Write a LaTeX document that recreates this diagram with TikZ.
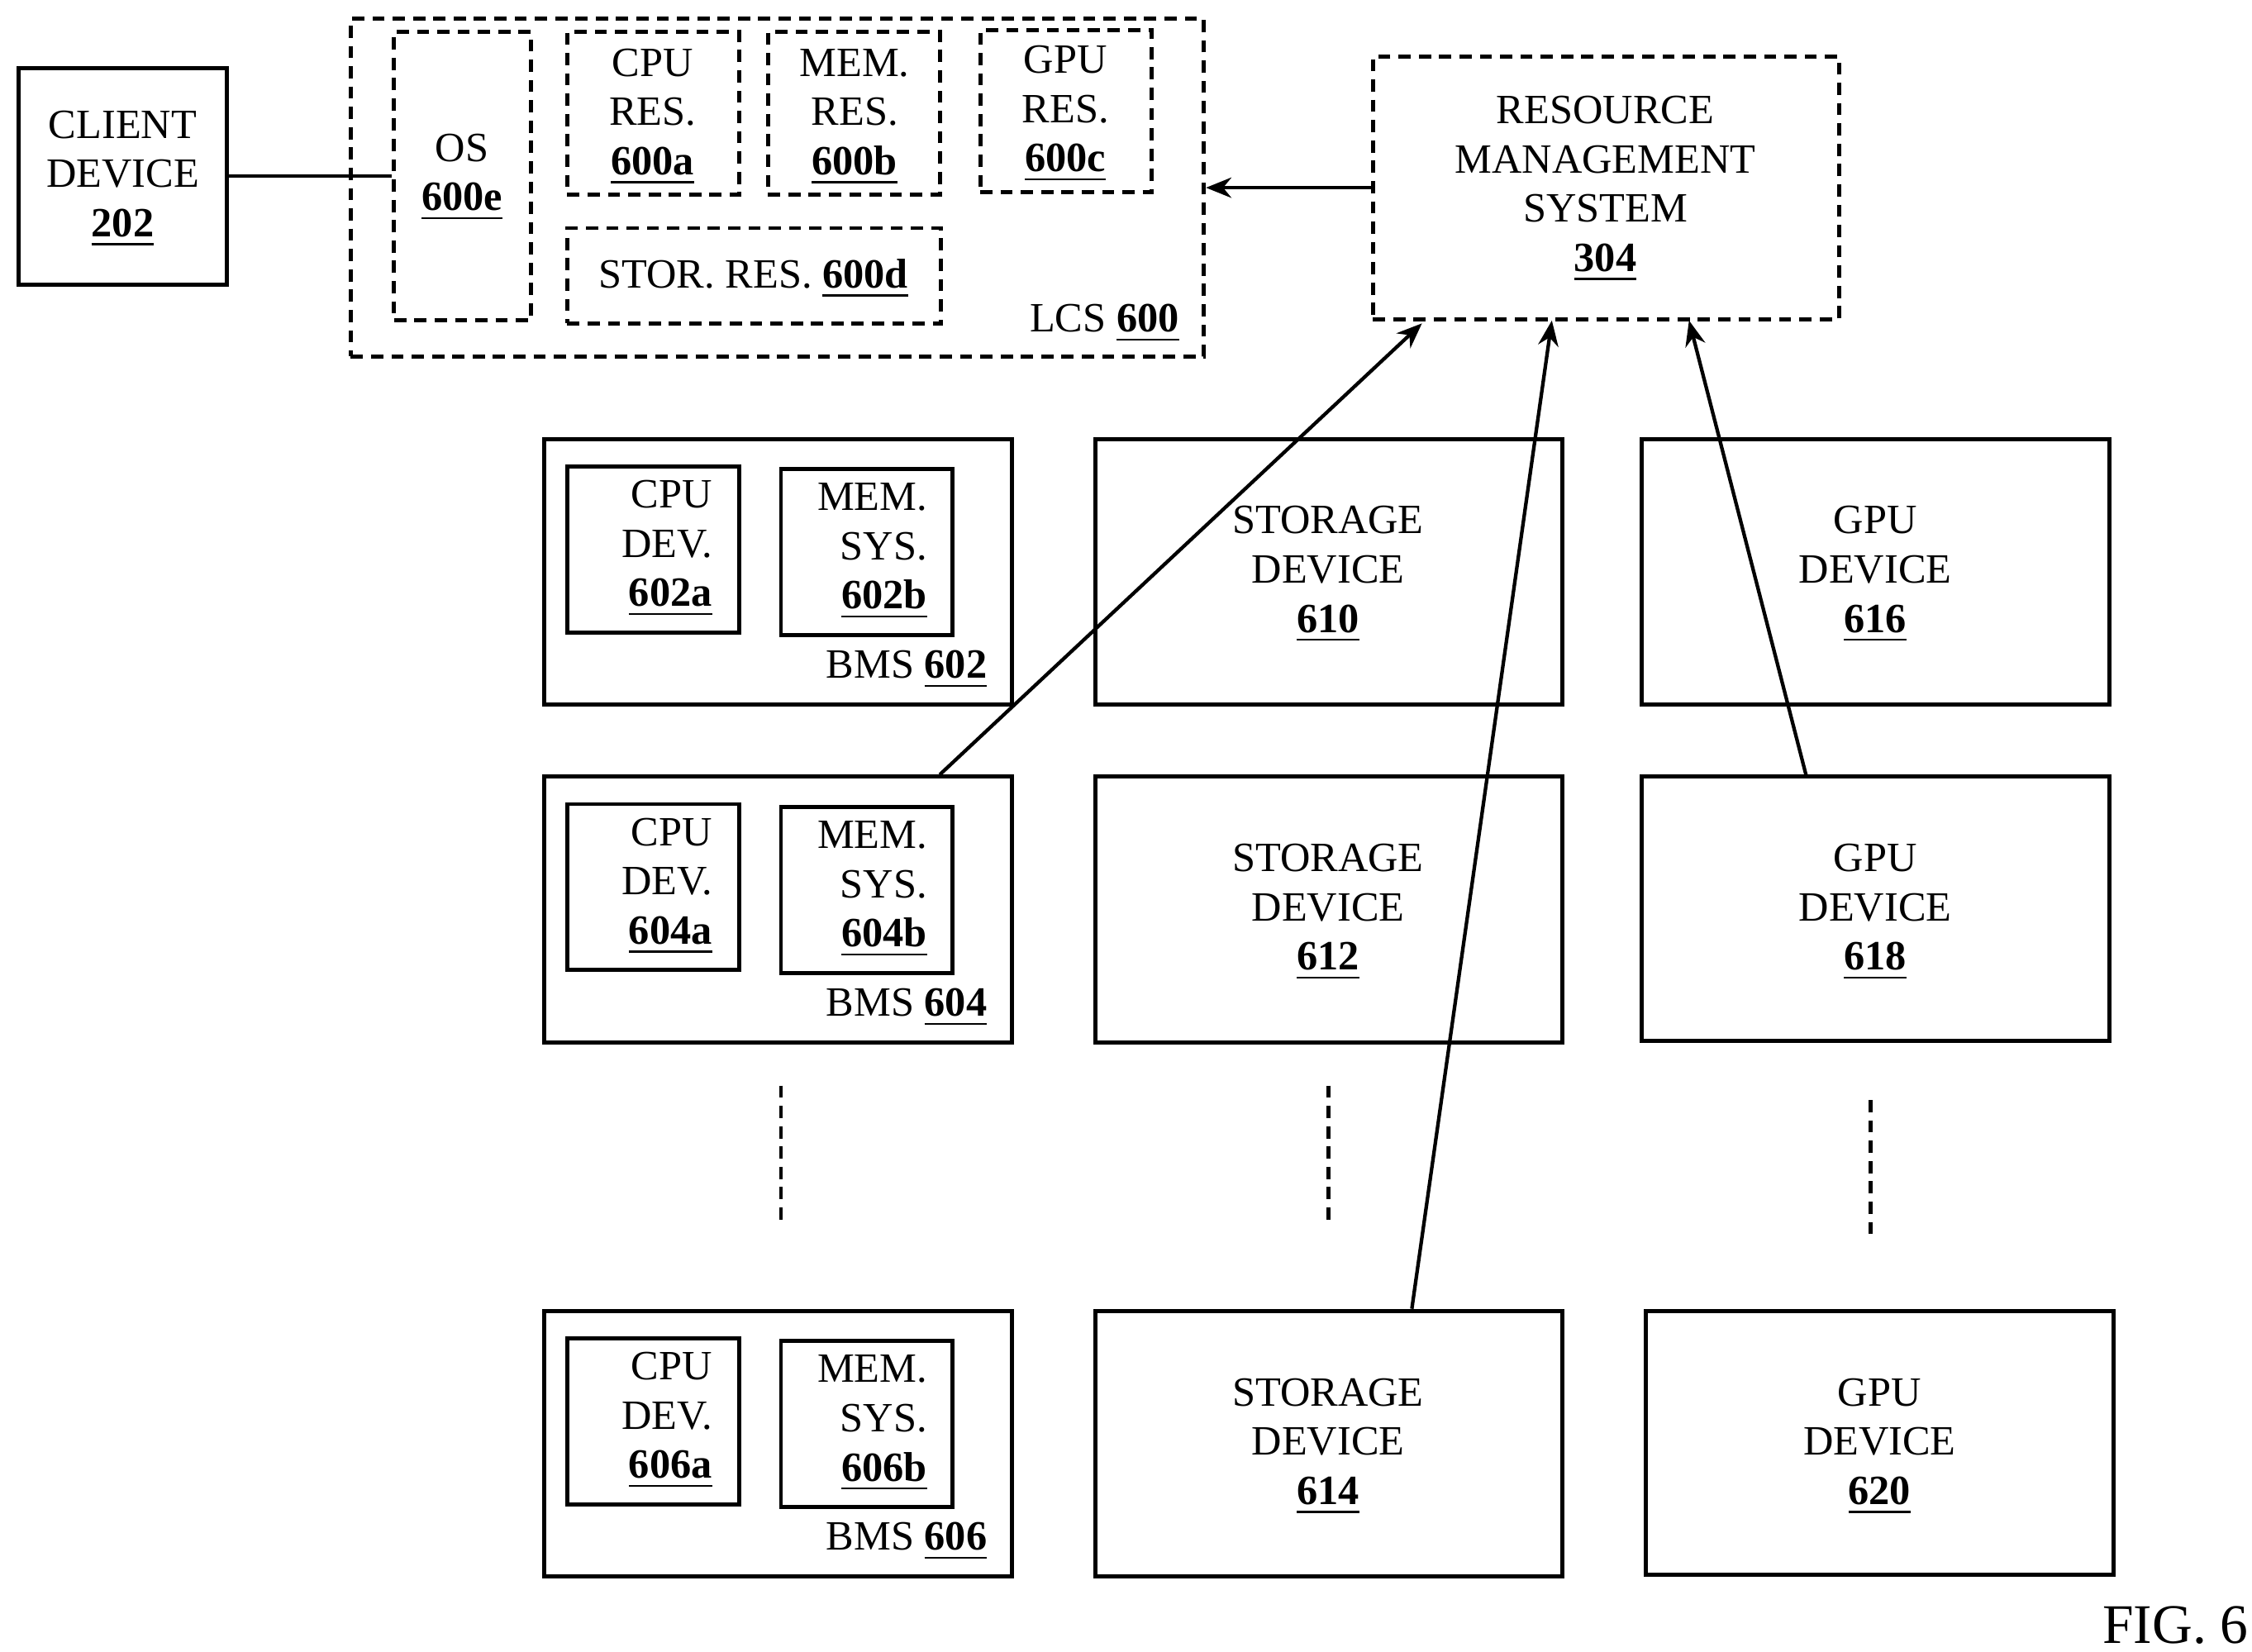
\documentclass[tikz,border=0pt]{standalone}
\usepackage{fontspec}
\setmainfont{Liberation Serif}
\usetikzlibrary{fit,arrows.meta}
\newcommand\mybox[6]{\coordinate (#1-a) at (#3,#4); \coordinate (#1-b) at (#5,#6); \node[#2, fit=(#1-a)(#1-b), inner sep=0pt] (#1) {};}
\newcommand\nm[1]{\textbf{\underline{#1}}}
\begin{document}
\begin{tikzpicture}[x=0.01cm,y=-0.01cm,
  sb/.style={draw,line width=0.8pt},
  db/.style={draw,line width=0.8pt,dash pattern=on 2.4pt off 1.6pt},
  lb/.style={font=\fontsize{8.2}{9.7}\selectfont,align=center,inner sep=0pt},
  rb/.style={font=\fontsize{8.2}{9.7}\selectfont,align=right,inner sep=0pt,anchor=east},
  conn/.style={line width=0.7pt},
  arr/.style={line width=0.7pt,-{Stealth[length=5pt,width=4pt]}}]
\useasboundingbox (0,0) rectangle (1560,1144);
% top
\mybox{client}{sb}{13}{47}{157}{197}
\node[lb] (clientt) at (85,124) {CLIENT\\DEVICE\\\nm{202}};
\mybox{lcs}{db}{243}{13}{834}{247}
\mybox{os}{db}{273}{22}{368}{222}
\mybox{cpur}{db}{393}{22}{512}{135}
\mybox{memr}{db}{532}{22}{651}{135}
\mybox{gpur}{db}{679}{21}{798}{133}
\mybox{stor}{db}{393}{158}{652}{224}
\node[lb] (ost) at (320,123) {OS\\\nm{600e}};
\node[lb] (cpurt) at (452,81) {CPU\\RES.\\\nm{600a}};
\node[lb] (memrt) at (592,81) {MEM.\\RES.\\\nm{600b}};
\node[lb] (gpurt) at (738,79) {GPU\\RES.\\\nm{600c}};
\node[lb] (stort) at (522,193) {STOR. RES. \nm{600d}};
\node[lb] (lcst) at (765,224) {LCS \nm{600}};
\mybox{rms}{db}{951}{39}{1274}{221}
\node[lb] (rmst) at (1112,131) {RESOURCE\\MANAGEMENT\\SYSTEM\\\nm{304}};
% BMS rows
\foreach \n/\d/\l in {602/0/602,604/234/604,606/604/606}{
  \mybox{bms\n}{sb}{377}{304+\d}{701}{488+\d}
  \mybox{cpu\n}{sb}{393}{323+\d}{512}{438+\d}
  \mybox{mem\n}{sb}{541}{325+\d}{660}{440+\d}
  \node[rb] (cput\n) at (494,380+\d) {CPU\\DEV.\\\nm{\l a}};
  \node[rb] (memt\n) at (643,382+\d) {MEM.\\SYS.\\\nm{\l b}};
  \node[lb] (bmst\n) at (628,464+\d) {BMS \nm{\l}};
}
\foreach \n/\d in {610/0,612/234,614/604}{
  \mybox{st\n}{sb}{759}{304+\d}{1082}{488+\d}
  \node[lb] (stt\n) at (920,398+\d) {STORAGE\\DEVICE\\\nm{\n}};
}
\mybox{gp616}{sb}{1137}{304}{1461}{488}
\node[lb] (gpt616) at (1299,398) {GPU\\DEVICE\\\nm{616}};
\mybox{gp618}{sb}{1137}{538}{1461}{721}
\node[lb] (gpt618) at (1299,632) {GPU\\DEVICE\\\nm{618}};
\mybox{gp620}{sb}{1140}{908}{1464}{1091}
\node[lb] (gpt620) at (1302,1002) {GPU\\DEVICE\\\nm{620}};
% dots
\coordinate (d1a) at (541,752); \coordinate (d1b) at (541,846);
\coordinate (d2a) at (920,752); \coordinate (d2b) at (920,848);
\coordinate (d3a) at (1296,762); \coordinate (d3b) at (1296,856);
\draw[db] (d1a)--(d1b); \draw[db] (d2a)--(d2b); \draw[db] (d3a)--(d3b);
% connectors
\draw[conn] (client.east|-0,122) -- (os.west|-0,122);
\draw[arr] (rms.west|-0,130) -- (lcs.east|-0,130);
\draw[arr] (bms604.north-|651,0) -- (985,224);
\draw[arr] (st614.north-|978,0) -- (1075,222);
\draw[arr] (gp618.north-|1251,0) -- (1170,222);
\node[font=\fontsize{11}{13}\selectfont,inner sep=0pt] (fig) at (1507,1126) {FIG. 6};
\end{tikzpicture}
\end{document}
